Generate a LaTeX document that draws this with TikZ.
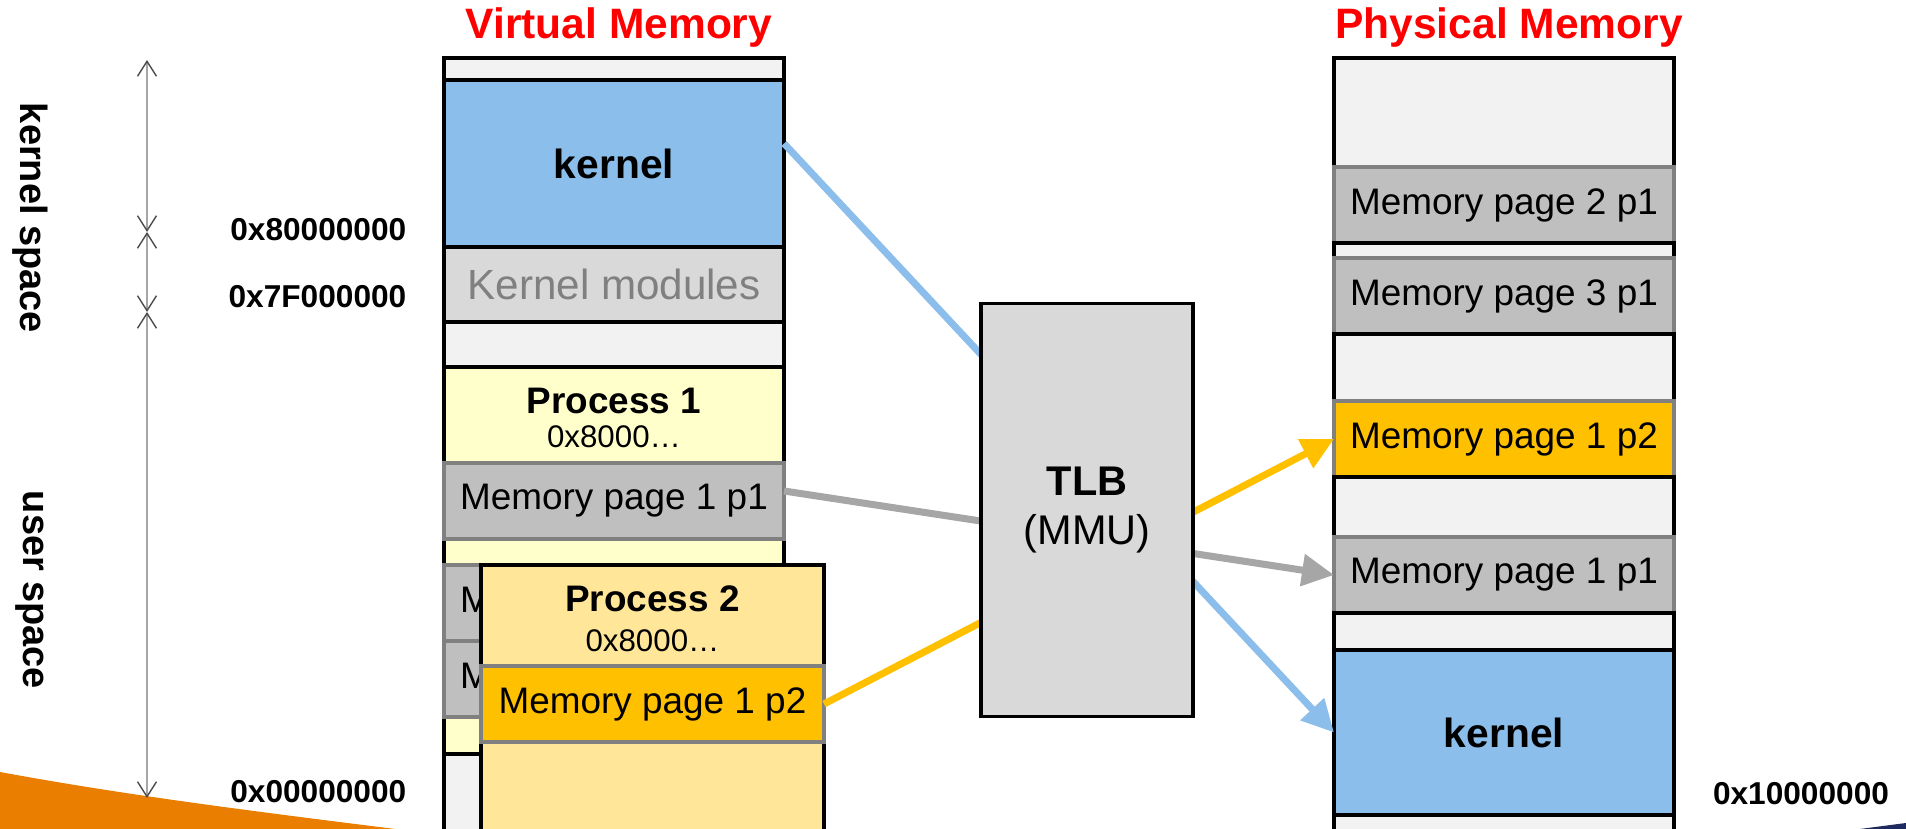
\documentclass[tikz,border=0pt]{standalone}
\usepackage{fontspec}
\setmainfont{Liberation Sans}
\usetikzlibrary{arrows.meta,positioning}

\definecolor{freegray}{HTML}{F2F2F2}
\definecolor{kernblue}{HTML}{8BBEEA}
\definecolor{modgray}{HTML}{D9D9D9}
\definecolor{pagegray}{HTML}{BFBFBF}
\definecolor{edgegray}{HTML}{808080}
\definecolor{procyellow}{HTML}{FFFFCC}
\definecolor{proctwo}{HTML}{FFE699}
\definecolor{pageorange}{HTML}{FFC000}
\definecolor{linegray}{HTML}{A6A6A6}
\definecolor{swoosh}{HTML}{EA7E00}
\definecolor{navy}{HTML}{1F2A5E}

\tikzset{
	band/.style={draw, line width=1pt, minimum width=34mm, inner sep=0pt, outer sep=0pt, fill=freegray},
	kern/.style={band, fill=kernblue, font=\bfseries\fontsize{11.6}{14}\selectfont},
	modband/.style={band, fill=modgray, text=edgegray, font=\fontsize{12}{14}\selectfont},
	procbox/.style={band, fill=procyellow},
	mempage/.style={band, draw=edgegray, fill=pagegray, minimum height=7.6mm, font=\fontsize{10.5}{12}\selectfont},
	orpage/.style={mempage, fill=pageorange},
	proctitle/.style={font=\bfseries\fontsize{10.5}{12}\selectfont, inner sep=0pt},
	procaddr/.style={font=\fontsize{8.9}{10}\selectfont, inner sep=0pt},
	tlbbox/.style={draw, line width=1pt, fill=modgray, minimum width=21.2mm, minimum height=41.3mm, align=center, font=\fontsize{11.8}{14.2}\selectfont},
	memtitle/.style={text=red, font=\bfseries\fontsize{12.1}{14}\selectfont, inner sep=0pt},
	addrlabel/.style={font=\bfseries\fontsize{9}{11}\selectfont, inner sep=0pt},
	spacelabel/.style={rotate=-90, font=\bfseries\fontsize{10.8}{12}\selectfont, inner sep=0pt},
	conn/.style={line width=2pt, -{Triangle[length=3.2mm,width=3.1mm]}},
	dimline/.style={draw=linegray, line width=0.4pt, {Straight Barb[length=1.5mm,width=1.9mm,color=black!70]}-{Straight Barb[length=1.5mm,width=1.9mm,color=black!70]}}
}

\begin{document}
\begin{tikzpicture}[x=0.1mm, y=-0.1mm]
	\useasboundingbox (0,0) rectangle (1906,829);
	\clip (0,0) rectangle (1906,829);

	% slide decoration
	\fill[swoosh] (0,772) .. controls (130,796) and (260,812) .. (395,829) -- (0,829) -- cycle;
	\fill[navy] (1860,829) -- (1906,823) -- (1906,829) -- cycle;

	% address range on the left
	\coordinate (dimtop) at (147,60);
	\coordinate (dimkern) at (147,232);
	\coordinate (dimmod) at (147,312);
	\coordinate (dimbot) at (147,798);
	\draw[dimline] (dimtop) -- (dimkern);
	\draw[dimline] (dimkern) -- (dimmod);
	\draw[dimline] (dimmod) -- (dimbot);
	\node[spacelabel] (kspace) at (30,218) {kernel space};
	\node[spacelabel] (uspace) at (30,590) {user space};
	\node[addrlabel, anchor=east] (a80) at (407,230) {0x80000000};
	\node[addrlabel, anchor=east] (a7f) at (407,297) {0x7F000000};
	\node[addrlabel, anchor=east] (a00) at (407,792) {0x00000000};
	\node[addrlabel] (a10) at (1801,794) {0x10000000};

	% virtual memory
	\node[memtitle] (vtitle) at (619,28) {Virtual Memory};
	\node[band, minimum height=2.2mm, anchor=north] (vtop) at (614,58) {};
	\node[kern, minimum height=16.7mm, below=0pt of vtop] (vkernel) {kernel};
	\node[modband, minimum height=7.5mm, below=0pt of vkernel] (vmod) {Kernel modules};
	\node[band, minimum height=4.5mm, below=0pt of vmod] (vgap) {};
	\node[procbox, minimum height=38.7mm, below=0pt of vgap] (vproc) {};
	\node[band, minimum height=8.6mm, below=0pt of vproc] (vfree) {};
	\node[mempage, below=9.6mm of vproc.north] (vpage1) {Memory page 1 p1};
	\node[mempage, below=2.6mm of vpage1] (vpage2) {Memory page 2 p1};
	\node[mempage, below=0pt of vpage2] (vpage3) {Memory page 3 p1};
	\node[proctitle] (p1name) at (614,401) {Process 1};
	\node[procaddr] (p1addr) at (614,437) {0x8000…};

	\node[procbox, fill=proctwo, minimum width=34.3mm, minimum height=27.5mm, anchor=north] (vproc2) at (652.5,565) {};
	\node[orpage, minimum width=34.3mm, below=10.1mm of vproc2.north] (vpage4) {Memory page 1 p2};
	\node[proctitle] (p2name) at (652.5,599) {Process 2};
	\node[procaddr] (p2addr) at (652.5,641) {0x8000…};

	% physical memory
	\node[memtitle] (ptitle) at (1509,28) {Physical Memory};
	\node[band, minimum height=10.9mm, anchor=north] (ptop) at (1504,58) {};
	\node[mempage, below=0pt of ptop] (ppage2) {Memory page 2 p1};
	\node[band, minimum height=1.5mm, below=0pt of ppage2] (pgap1) {};
	\node[mempage, below=0pt of pgap1] (ppage3) {Memory page 3 p1};
	\node[band, minimum height=6.7mm, below=0pt of ppage3] (pgap2) {};
	\node[orpage, below=0pt of pgap2] (ppage4) {Memory page 1 p2};
	\node[band, minimum height=6mm, below=0pt of ppage4] (pgap3) {};
	\node[mempage, below=0pt of pgap3] (ppage1) {Memory page 1 p1};
	\node[band, minimum height=3.7mm, below=0pt of ppage1] (pgap4) {};
	\node[kern, minimum height=16.5mm, below=0pt of pgap4] (pkernel) {kernel};
	\node[band, minimum height=2.5mm, below=0pt of pkernel] (pfree) {};

	% mappings, passing behind the TLB
	\draw[conn, kernblue] ([yshift=2mm]vkernel.east) -- (pkernel.west);
	\draw[conn, linegray] ([yshift=1mm]vpage1.east) -- (ppage1.west);
	\draw[conn, pageorange] (vpage4.east) -- (ppage4.west);

	\node[tlbbox] (tlb) at (1087,510) {\textbf{TLB}\\(MMU)};
\end{tikzpicture}
\end{document}
